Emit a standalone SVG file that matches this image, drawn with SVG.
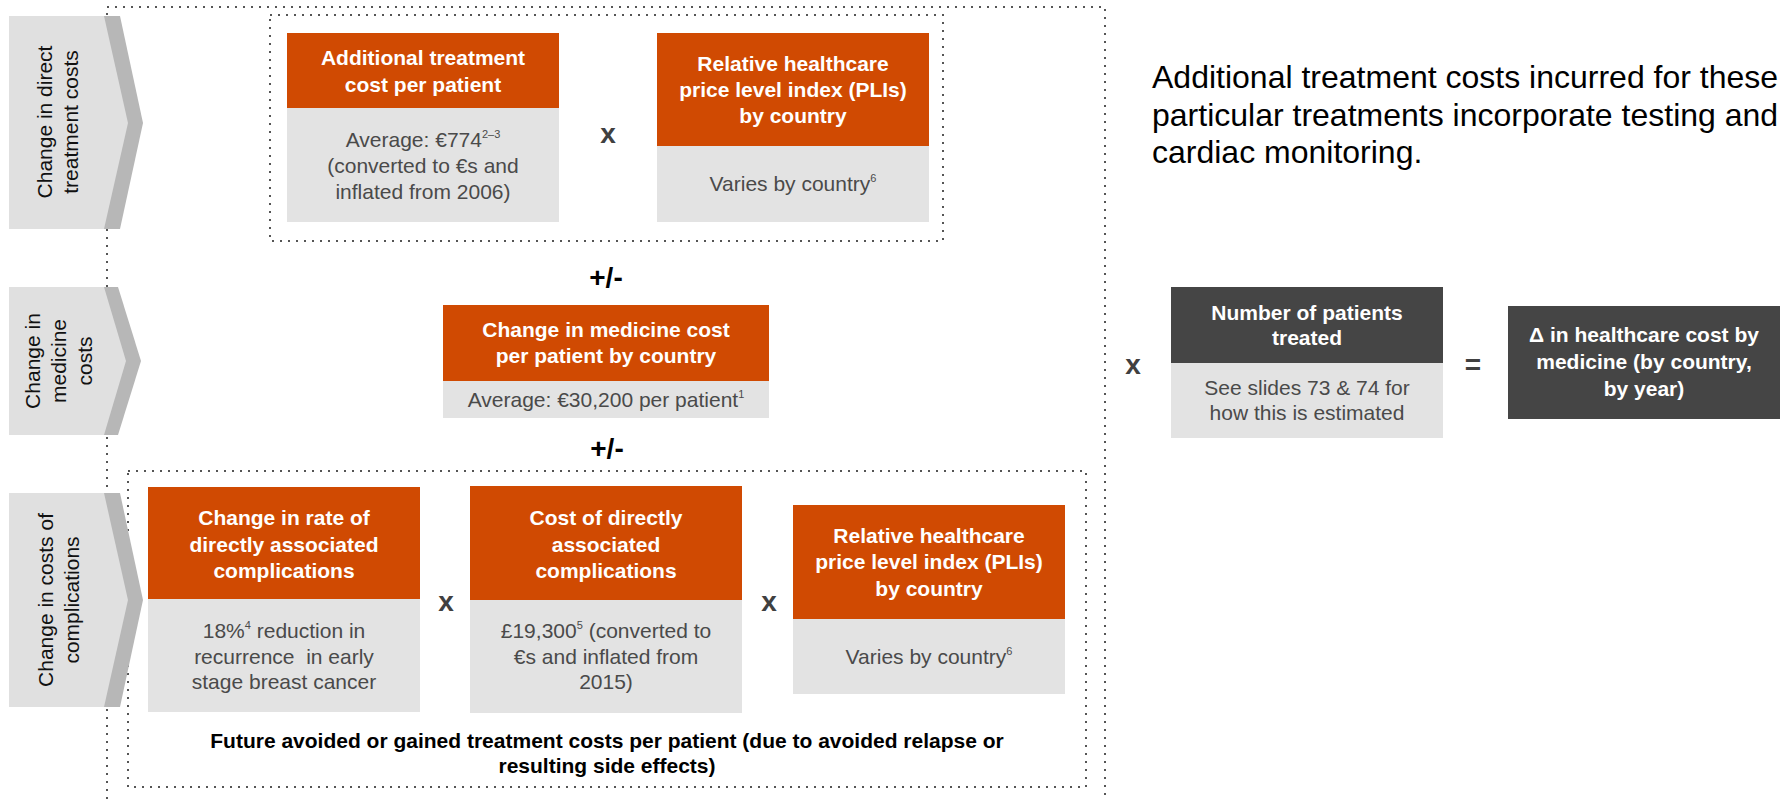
<svg xmlns="http://www.w3.org/2000/svg" width="1789" height="801" viewBox="0 0 1789 801">
<style>
text{font-family:"Liberation Sans",Arial,Helvetica,sans-serif}
.dot{fill:none;stroke:#555;stroke-width:2;stroke-dasharray:2 6}
.or{fill:#D04A02}
.gr{fill:#E3E3E3}
.dk{fill:#454545}
.ttl{font-size:21px;font-weight:bold;fill:#fff;text-anchor:middle}
.bd{font-size:21px;fill:#4a4a4a;text-anchor:middle}
.sup{font-size:11px}
.op{font-size:28px;font-weight:bold;fill:#404040;text-anchor:middle}
.pm{font-size:28px;font-weight:bold;fill:#000;text-anchor:middle}
.chl{fill:#E0E0E0}
.chd{fill:#B7B7B7}
.cht{font-size:21px;fill:#111;text-anchor:middle}
.ft{font-size:21px;font-weight:bold;fill:#000;text-anchor:middle}
.note{font-size:32px;fill:#000}
.pre{white-space:pre}
</style>

<g id="frames">
  <rect class="dot" x="107" y="7" width="998" height="810"/>
  <rect class="dot" x="270" y="15" width="673" height="226"/>
  <rect class="dot" x="128" y="471" width="958" height="316"/>
</g>

<g id="chevron-direct">
  <polygon class="chd" points="9,16 120,16 143,123 120,229 9,229"/>
  <polygon class="chl" points="9,16 104,16 128,123 104,229 9,229"/>
  <text class="cht" transform="translate(52,122) rotate(-90)">Change in direct</text>
  <text class="cht" transform="translate(78,122) rotate(-90)">treatment costs</text>
</g>

<g id="chevron-medicine">
  <polygon class="chd" points="9,287 118,287 141,361 118,435 9,435"/>
  <polygon class="chl" points="9,287 104,287 126,361 104,435 9,435"/>
  <text class="cht" transform="translate(40,361) rotate(-90)">Change in</text>
  <text class="cht" transform="translate(66,361) rotate(-90)">medicine</text>
  <text class="cht" transform="translate(92,361) rotate(-90)">costs</text>
</g>

<g id="chevron-complications">
  <polygon class="chd" points="9,493 120,493 143,600 120,707 9,707"/>
  <polygon class="chl" points="9,493 104,493 128,600 104,707 9,707"/>
  <text class="cht" transform="translate(53,600) rotate(-90)">Change in costs of</text>
  <text class="cht" transform="translate(79,600) rotate(-90)">complications</text>
</g>

<g id="node-additional-treatment-cost">
  <rect class="or" x="287" y="33" width="272" height="75"/>
  <rect class="gr" x="287" y="108" width="272" height="114"/>
  <text class="ttl" x="423" y="65">Additional treatment</text>
  <text class="ttl" x="423" y="92">cost per patient</text>
  <text class="bd" x="423" y="147">Average: €774<tspan class="sup" dy="-9">2–3</tspan></text>
  <text class="bd" x="423" y="173">(converted to €s and</text>
  <text class="bd" x="423" y="199">inflated from 2006)</text>
</g>

<g id="node-pli-top">
  <rect class="or" x="657" y="33" width="272" height="113"/>
  <rect class="gr" x="657" y="146" width="272" height="76"/>
  <text class="ttl" x="793" y="71">Relative healthcare</text>
  <text class="ttl" x="793" y="97">price level index (PLIs)</text>
  <text class="ttl" x="793" y="123">by country</text>
  <text class="bd" x="793" y="191">Varies by country<tspan class="sup" dy="-9">6</tspan></text>
</g>

<g id="node-medicine-cost">
  <rect class="or" x="443" y="305" width="326" height="76"/>
  <rect class="gr" x="443" y="381" width="326" height="37"/>
  <text class="ttl" x="606" y="337">Change in medicine cost</text>
  <text class="ttl" x="606" y="363">per patient by country</text>
  <text class="bd" x="606" y="407">Average: €30,200 per patient<tspan class="sup" dy="-9">1</tspan></text>
</g>

<g id="node-rate-complications">
  <rect class="or" x="148" y="487" width="272" height="112"/>
  <rect class="gr" x="148" y="599" width="272" height="113"/>
  <text class="ttl" x="284" y="525">Change in rate of</text>
  <text class="ttl" x="284" y="552">directly associated</text>
  <text class="ttl" x="284" y="578">complications</text>
  <text class="bd" x="284" y="638">18%<tspan class="sup" dy="-9">4</tspan><tspan dy="9"> reduction in</tspan></text>
  <text class="bd pre" xml:space="preserve" x="284" y="664">recurrence  in early</text>
  <text class="bd" x="284" y="689">stage breast cancer</text>
</g>

<g id="node-cost-complications">
  <rect class="or" x="470" y="486" width="272" height="114"/>
  <rect class="gr" x="470" y="600" width="272" height="113"/>
  <text class="ttl" x="606" y="525">Cost of directly</text>
  <text class="ttl" x="606" y="552">associated</text>
  <text class="ttl" x="606" y="578">complications</text>
  <text class="bd" x="606" y="638">£19,300<tspan class="sup" dy="-9">5</tspan><tspan dy="9"> (converted to</tspan></text>
  <text class="bd" x="606" y="664">€s and inflated from</text>
  <text class="bd" x="606" y="689">2015)</text>
</g>

<g id="node-pli-bottom">
  <rect class="or" x="793" y="505" width="272" height="114"/>
  <rect class="gr" x="793" y="619" width="272" height="75"/>
  <text class="ttl" x="929" y="543">Relative healthcare</text>
  <text class="ttl" x="929" y="569">price level index (PLIs)</text>
  <text class="ttl" x="929" y="596">by country</text>
  <text class="bd" x="929" y="664">Varies by country<tspan class="sup" dy="-9">6</tspan></text>
</g>

<g id="footer-complications">
  <text class="ft" x="607" y="748">Future avoided or gained treatment costs per patient (due to avoided relapse or</text>
  <text class="ft" x="607" y="773">resulting side effects)</text>
</g>

<g id="note">
  <text class="note" x="1152" y="88">Additional treatment costs incurred for these</text>
  <text class="note" x="1152" y="126">particular treatments incorporate testing and</text>
  <text class="note" x="1152" y="163">cardiac monitoring.</text>
</g>

<g id="node-patients">
  <rect class="dk" x="1171" y="287" width="272" height="76"/>
  <rect class="gr" x="1171" y="363" width="272" height="75"/>
  <text class="ttl" x="1307" y="320">Number of patients</text>
  <text class="ttl" x="1307" y="345">treated</text>
  <text class="bd" x="1307" y="395">See slides 73 &amp; 74 for</text>
  <text class="bd" x="1307" y="420">how this is estimated</text>
</g>

<g id="node-result">
  <rect class="dk" x="1508" y="306" width="272" height="113"/>
  <text class="ttl" x="1644" y="342">Δ in healthcare cost by</text>
  <text class="ttl" x="1644" y="369">medicine (by country,</text>
  <text class="ttl" x="1644" y="396">by year)</text>
</g>

<g id="operators">
  <text class="op" x="608" y="143">x</text>
  <text class="pm" x="606" y="287">+/-</text>
  <text class="pm" x="607" y="458">+/-</text>
  <text class="op" x="446" y="611">x</text>
  <text class="op" x="769" y="611">x</text>
  <text class="op" x="1133" y="374">x</text>
  <text class="op" x="1473" y="374">=</text>
</g>
</svg>
